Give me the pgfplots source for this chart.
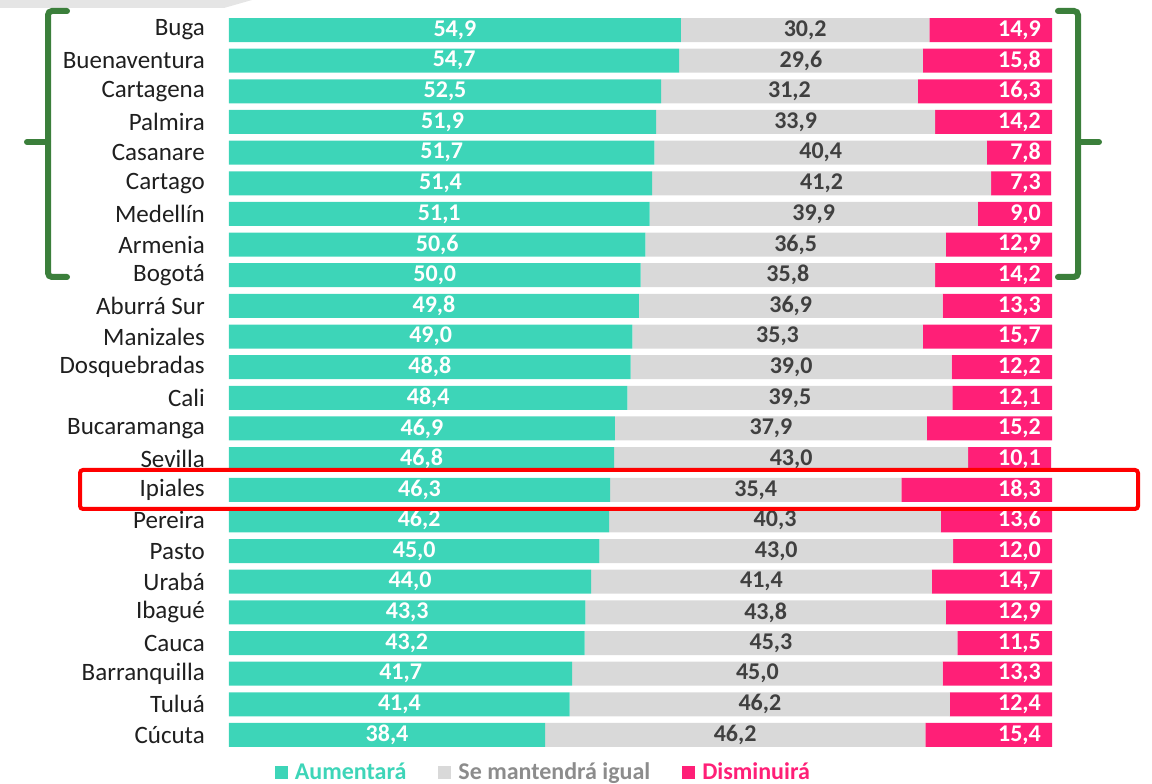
\documentclass[border=0pt]{standalone}
\usepackage{fontspec}
\setmainfont{Carlito}
\usepackage{pgfplots}
\usepackage{pgfplotstable}
\pgfplotsset{compat=1.18}
\definecolor{cgreen}{HTML}{3DD5B8}
\definecolor{cgray}{HTML}{D9D9D9}
\definecolor{cpink}{HTML}{FF1F77}
\definecolor{cbrace}{HTML}{3B7F3B}
\definecolor{cgraytxt}{HTML}{8C8C8C}
\pgfplotstableread{
idx a b c
0 54.9 30.2 14.9
1 54.7 29.6 15.8
2 52.5 31.2 16.3
3 51.9 33.9 14.2
4 51.7 40.4 7.8
5 51.4 41.2 7.3
6 51.1 39.9 9.0
7 50.6 36.5 12.9
8 50.0 35.8 14.2
9 49.8 36.9 13.3
10 49.0 35.3 15.7
11 48.8 39.0 12.2
12 48.4 39.5 12.1
13 46.9 37.9 15.2
14 46.8 43.0 10.1
15 46.3 35.4 18.3
16 46.2 40.3 13.6
17 45.0 43.0 12.0
18 44.0 41.4 14.7
19 43.3 43.8 12.9
20 43.2 45.3 11.5
21 41.7 45.0 13.3
22 41.4 46.2 12.4
23 38.4 46.2 15.4
}\datatable
\newcommand{\fs}{\fontsize{24}{28}\selectfont}
\newcommand{\fst}{\fontsize{25}{29}\selectfont}
\begin{document}
\begin{tikzpicture}[x=1pt,y=1pt]
\useasboundingbox (0,0) rectangle (1152,784);
\fill[gray!20] (0,784) -- (252,784) -- (224,776) -- (0,776) -- cycle;
\pgfplotsset{
  base/.style={
    at={(229pt,33.7pt)}, anchor=south west,
    width=823pt, height=735.6pt, scale only axis,
    xmin=0, xmax=100, ymin=-0.5, ymax=23.5, y dir=reverse,
  }
}
\begin{axis}[base,
  xbar stacked, bar width=24pt,
  axis line style={draw=none}, major tick length=0pt,
  xtick=\empty,
  ytick={0,...,23},
  yticklabels={Buga,Buenaventura,Cartagena,Palmira,Casanare,Cartago,Medellín,Armenia,Bogotá,Aburrá Sur,Manizales,Dosquebradas,Cali,Bucaramanga,Sevilla,Ipiales,Pereira,Pasto,Urabá,Ibagué,Cauca,Barranquilla,Tuluá,Cúcuta},
  yticklabel style={font=\fst, text=black!88, anchor=east, inner sep=0pt, xshift=-24pt},
  legend columns=3,
  legend style={at={(0.382,-0.0295)}, anchor=center, draw=none, fill=none,
    font=\bfseries\fs, /tikz/every even column/.append style={column sep=30pt}},
]
\addplot[fill=cgreen, draw=none, legend image code/.code={\fill[cgreen] (0pt,-6.5pt) rectangle (13pt,6.5pt);}] table[x=a, y=idx] {\datatable};
\addplot[fill=cgray, draw=none, legend image code/.code={\fill[cgray] (0pt,-6.5pt) rectangle (13pt,6.5pt);}] table[x=b, y=idx] {\datatable};
\addplot[fill=cpink, draw=none, legend image code/.code={\fill[cpink] (0pt,-6.5pt) rectangle (13pt,6.5pt);}] table[x=c, y=idx] {\datatable};
\legend{\hspace{5pt}\textcolor{cgreen}{Aumentará},\hspace{5pt}\textcolor{cgraytxt}{Se mantendrá igual},\hspace{5pt}\textcolor{cpink}{Disminuirá}}
\end{axis}
\begin{axis}[base, hide axis,
  /pgf/number format/.cd, fixed, fixed zerofill, precision=1, use comma, assume math mode=true,
  /pgfplots/.cd,
  every node near coord/.append style={font=\bfseries\fs, inner sep=0pt},
]
\addplot[draw=none, mark=none, nodes near coords, point meta=explicit,
  every node near coord/.append style={anchor=center, text=white}]
  table[x expr=\thisrow{a}/2, y=idx, meta=a] {\datatable};
\addplot[draw=none, mark=none, nodes near coords, point meta=explicit,
  every node near coord/.append style={anchor=center, text=black!75}]
  table[x expr=\thisrow{a}+\thisrow{b}/2, y=idx, meta=b] {\datatable};
\addplot[draw=none, mark=none, nodes near coords, point meta=explicit,
  every node near coord/.append style={anchor=east, text=white, xshift=-11pt}]
  table[x expr=100, y=idx, meta=c] {\datatable};
\end{axis}
% brackets and highlight
\draw[cbrace, line width=6pt, rounded corners=4pt, line cap=round] (67,773) -- (48,773) -- (48,507) -- (67,507);
\draw[cbrace, line width=6pt, line cap=round] (48,642) -- (27,642);
\draw[cbrace, line width=6pt, rounded corners=4pt, line cap=round] (1058,773) -- (1078,773) -- (1078,507) -- (1058,507);
\draw[cbrace, line width=6pt, line cap=round] (1078,642) -- (1099,642);
\draw[red, line width=4pt, rounded corners=3pt] (80,314) rectangle (1138,275);
\end{tikzpicture}
\end{document}
